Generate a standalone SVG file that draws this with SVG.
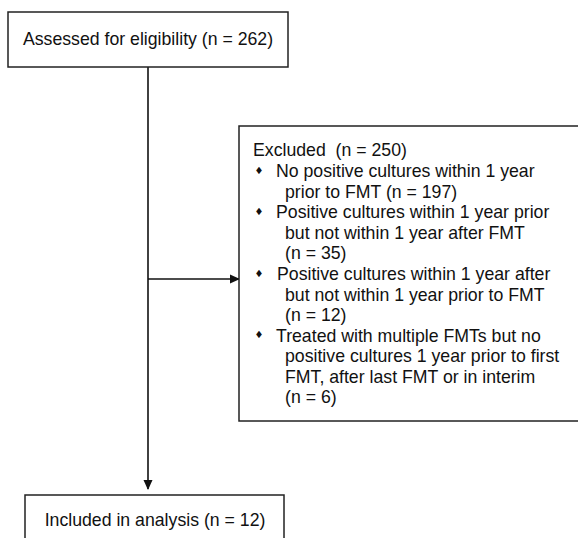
<svg xmlns="http://www.w3.org/2000/svg" width="578" height="538" viewBox="0 0 578 538">
<defs>
<style>
.box{fill:#fff;stroke:#222;stroke-width:1.5}
.t{font-family:"Liberation Sans",Arial,sans-serif;font-size:17.7px;fill:#111;white-space:pre}
.c{text-anchor:middle}
.b{font-family:"DejaVu Sans",sans-serif;font-size:10px;fill:#111}
.ln{stroke:#111;stroke-width:1.6;fill:none}
</style>
<marker id="ah" markerWidth="10" markerHeight="10" refX="9" refY="5" orient="auto" markerUnits="userSpaceOnUse">
<path d="M0,0.5 L10,5 L0,9.5 z" fill="#111"/>
</marker>
</defs>
<rect width="578" height="538" fill="#fff"/>
<g id="connectors">
<line class="ln" x1="148" y1="67" x2="148" y2="489" marker-end="url(#ah)"/>
<line class="ln" x1="148" y1="279" x2="239" y2="279" marker-end="url(#ah)"/>
</g>
<g id="assessed">
<rect class="box" x="8" y="12" width="280" height="55"/>
<text class="t c" x="148" y="45">Assessed for eligibility (n = 262)</text>
</g>
<g id="excluded">
<rect class="box" x="239" y="126" width="345" height="295"/>
<text class="t" x="253" y="156" xml:space="preserve">Excluded  (n = 250)</text>
<text class="b" x="254.5" y="173.5">♦</text>
<text class="t" x="276" y="177">No positive cultures within 1 year</text>
<text class="t" x="285" y="197.5">prior to FMT (n = 197)</text>
<text class="b" x="254.5" y="214.5">♦</text>
<text class="t" x="276" y="218">Positive cultures within 1 year prior</text>
<text class="t" x="285" y="238.5">but not within 1 year after FMT</text>
<text class="t" x="285" y="259">(n = 35)</text>
<text class="b" x="254.5" y="276.5">♦</text>
<text class="t" x="277" y="280">Positive cultures within 1 year after</text>
<text class="t" x="285" y="300.5">but not within 1 year prior to FMT</text>
<text class="t" x="285" y="321">(n = 12)</text>
<text class="b" x="254.5" y="338">♦</text>
<text class="t" x="276" y="341.5">Treated with multiple FMTs but no</text>
<text class="t" x="285" y="362">positive cultures 1 year prior to first</text>
<text class="t" x="285" y="382.5">FMT, after last FMT or in interim</text>
<text class="t" x="285" y="403">(n = 6)</text>
</g>
<g id="included">
<rect class="box" x="25" y="495" width="259" height="60"/>
<text class="t c" x="155" y="526">Included in analysis (n = 12)</text>
</g>
</svg>
